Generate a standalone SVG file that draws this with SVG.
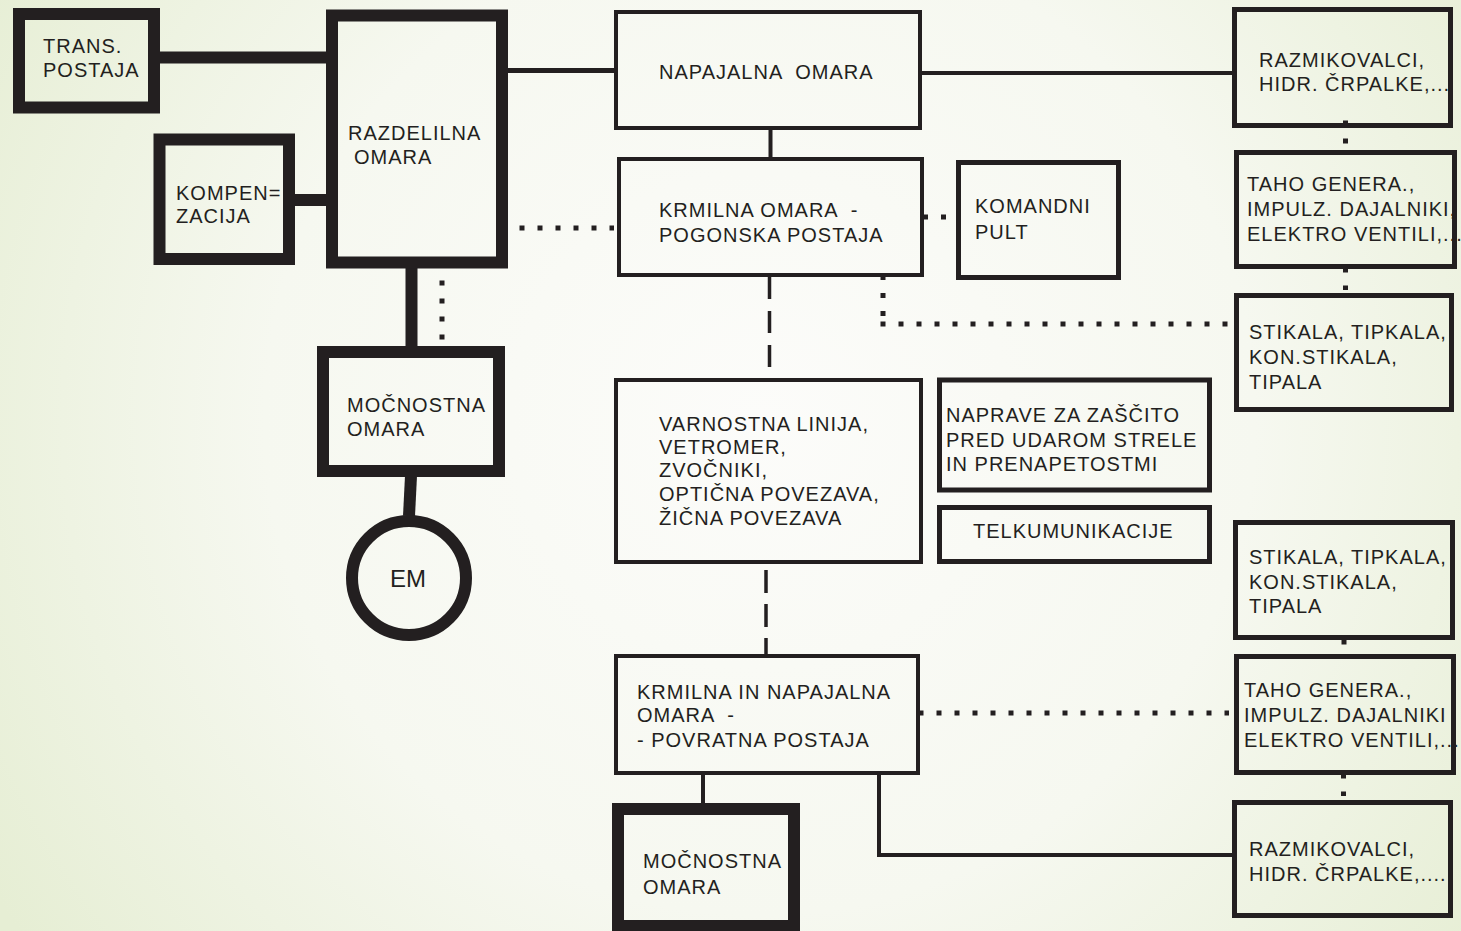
<svg xmlns="http://www.w3.org/2000/svg" width="1461" height="931" viewBox="0 0 1461 931">
<defs>
<radialGradient id="bg" cx="760" cy="420" r="900" gradientUnits="userSpaceOnUse">
<stop offset="0" stop-color="#fcfcfa"/>
<stop offset="0.55" stop-color="#f6f8f0"/>
<stop offset="1" stop-color="#e6eed4"/>
</radialGradient>
<style>
.k{fill:none;stroke:#231f20;stroke-width:12}
.n{fill:none;stroke:#231f20;stroke-width:4}
.m{fill:none;stroke:#231f20;stroke-width:5}
text{font-family:"Liberation Sans",Arial,sans-serif;font-size:20px;letter-spacing:1px;fill:#231f20}
.dot{fill:none;stroke:#231f20;stroke-width:5;stroke-dasharray:5 13}
.dash{fill:none;stroke:#231f20;stroke-width:3.5;stroke-dasharray:22 12}
.dash2{fill:none;stroke:#231f20;stroke-width:3.5;stroke-dasharray:23 11}
</style>
</defs>
<rect x="0" y="0" width="1461" height="931" fill="url(#bg)"/>

<g id="connectors">
<line class="k" x1="160" y1="57.5" x2="327" y2="57.5" stroke-width="11"/>
<line class="k" x1="295" y1="200" x2="327" y2="200"/>
<line class="m" x1="508" y1="70.5" x2="615" y2="70.5"/>
<line class="n" x1="921" y1="73" x2="1233" y2="73"/>
<line class="n" x1="770.5" y1="129" x2="770.5" y2="158"/>
<line class="k" x1="411.5" y1="267" x2="411.5" y2="347" stroke-width="11"/>
<line class="k" x1="411" y1="476" x2="409" y2="516"/>
<line class="n" x1="703" y1="774" x2="703" y2="804"/>
<path class="n" d="M879,774 V855 H1233"/>
<line class="dot" x1="519.5" y1="228" x2="614" y2="228"/>
<line class="dot" x1="923" y1="217" x2="947" y2="217"/>
<line class="dot" x1="883" y1="275" x2="883" y2="317"/>
<line class="dot" x1="880.5" y1="324" x2="1229" y2="324"/>
<line class="dot" x1="442" y1="280.5" x2="442" y2="340"/>
<line class="dot" x1="1345.5" y1="120.5" x2="1345.5" y2="146"/>
<line class="dot" x1="1345.5" y1="267.5" x2="1345.5" y2="290"/>
<line class="dot" x1="1344" y1="639.5" x2="1344" y2="645"/>
<line class="dot" x1="1343.5" y1="773.5" x2="1343.5" y2="796"/>
<line class="dot" x1="918.5" y1="713" x2="1229" y2="713"/>
<line class="dash" x1="769.5" y1="277" x2="769.5" y2="380"/>
<line class="dash2" x1="766" y1="570" x2="766" y2="657"/>
</g>

<g id="trans-postaja">
<rect class="k" x="19" y="14" width="135" height="93.5"/>
<text x="43" y="53">TRANS.</text>
<text x="43" y="77">POSTAJA</text>
</g>

<g id="razdelilna-omara">
<rect class="k" x="332" y="15.5" width="170" height="247"/>
<text x="348" y="140">RAZDELILNA</text>
<text x="354" y="164">OMARA</text>
</g>

<g id="kompenzacija">
<rect class="k" x="159.5" y="139.5" width="129.5" height="119.5"/>
<text x="176" y="200">KOMPEN=</text>
<text x="176" y="223">ZACIJA</text>
</g>

<g id="mocnostna-omara-1">
<rect class="k" x="323" y="352" width="176" height="119"/>
<text x="347" y="412">MOČNOSTNA</text>
<text x="347" y="436">OMARA</text>
</g>

<g id="em">
<circle class="k" cx="409" cy="578" r="57"/>
<text x="408" y="587" text-anchor="middle" style="font-size:24px;letter-spacing:0">EM</text>
</g>

<g id="napajalna-omara">
<rect class="n" x="616" y="12" width="304" height="116"/>
<text x="659" y="79" xml:space="preserve">NAPAJALNA  OMARA</text>
</g>

<g id="krmilna-omara">
<rect class="n" x="619" y="159" width="303" height="116"/>
<text x="659" y="217" xml:space="preserve">KRMILNA OMARA  -</text>
<text x="659" y="242">POGONSKA POSTAJA</text>
</g>

<g id="komandni-pult">
<rect class="m" x="958.5" y="162.5" width="160" height="115"/>
<text x="975" y="213">KOMANDNI</text>
<text x="975" y="239">PULT</text>
</g>

<g id="varnostna-linija">
<rect class="n" x="616" y="380" width="305" height="182"/>
<text x="659" y="431">VARNOSTNA LINIJA,</text>
<text x="659" y="454">VETROMER,</text>
<text x="659" y="477">ZVOČNIKI,</text>
<text x="659" y="501">OPTIČNA POVEZAVA,</text>
<text x="659" y="525">ŽIČNA POVEZAVA</text>
</g>

<g id="naprave-zascita">
<rect class="m" x="939.5" y="380" width="270" height="110"/>
<text x="946" y="422">NAPRAVE ZA ZAŠČITO</text>
<text x="946" y="447">PRED UDAROM STRELE</text>
<text x="946" y="471">IN PRENAPETOSTMI</text>
</g>

<g id="telkumunikacije">
<rect class="m" x="939.5" y="507.5" width="270" height="54"/>
<text x="973" y="538">TELKUMUNIKACIJE</text>
</g>

<g id="razmikovalci-1">
<rect class="m" x="1234.5" y="9.5" width="216" height="116"/>
<text x="1259" y="67">RAZMIKOVALCI,</text>
<text x="1259" y="91">HIDR. ČRPALKE,...</text>
</g>

<g id="taho-1">
<rect class="m" x="1236.5" y="152.5" width="218" height="114"/>
<text x="1247" y="191">TAHO GENERA.,</text>
<text x="1247" y="216">IMPULZ. DAJALNIKI,</text>
<text x="1247" y="241">ELEKTRO VENTILI,...</text>
</g>

<g id="stikala-1">
<rect class="m" x="1236.5" y="295.5" width="215" height="114"/>
<text x="1249" y="339">STIKALA, TIPKALA,</text>
<text x="1249" y="364">KON.STIKALA,</text>
<text x="1249" y="389">TIPALA</text>
</g>

<g id="stikala-2">
<rect class="m" x="1235.5" y="522.5" width="217" height="115"/>
<text x="1249" y="564">STIKALA, TIPKALA,</text>
<text x="1249" y="589">KON.STIKALA,</text>
<text x="1249" y="613">TIPALA</text>
</g>

<g id="taho-2">
<rect class="m" x="1236.5" y="656.5" width="217" height="116"/>
<text x="1244" y="697">TAHO GENERA.,</text>
<text x="1244" y="722">IMPULZ. DAJALNIKI</text>
<text x="1244" y="747">ELEKTRO VENTILI,...</text>
</g>

<g id="razmikovalci-2">
<rect class="m" x="1234.5" y="802.5" width="216" height="113"/>
<text x="1249" y="856">RAZMIKOVALCI,</text>
<text x="1249" y="881">HIDR. ČRPALKE,....</text>
</g>

<g id="krmilna-napajalna-omara">
<rect class="n" x="616" y="656" width="302" height="117"/>
<text x="637" y="699">KRMILNA IN NAPAJALNA</text>
<text x="637" y="722" xml:space="preserve">OMARA  -</text>
<text x="637" y="747">- POVRATNA POSTAJA</text>
</g>

<g id="mocnostna-omara-2">
<rect class="k" x="618" y="809" width="176" height="117"/>
<text x="643" y="868">MOČNOSTNA</text>
<text x="643" y="894">OMARA</text>
</g>
</svg>
